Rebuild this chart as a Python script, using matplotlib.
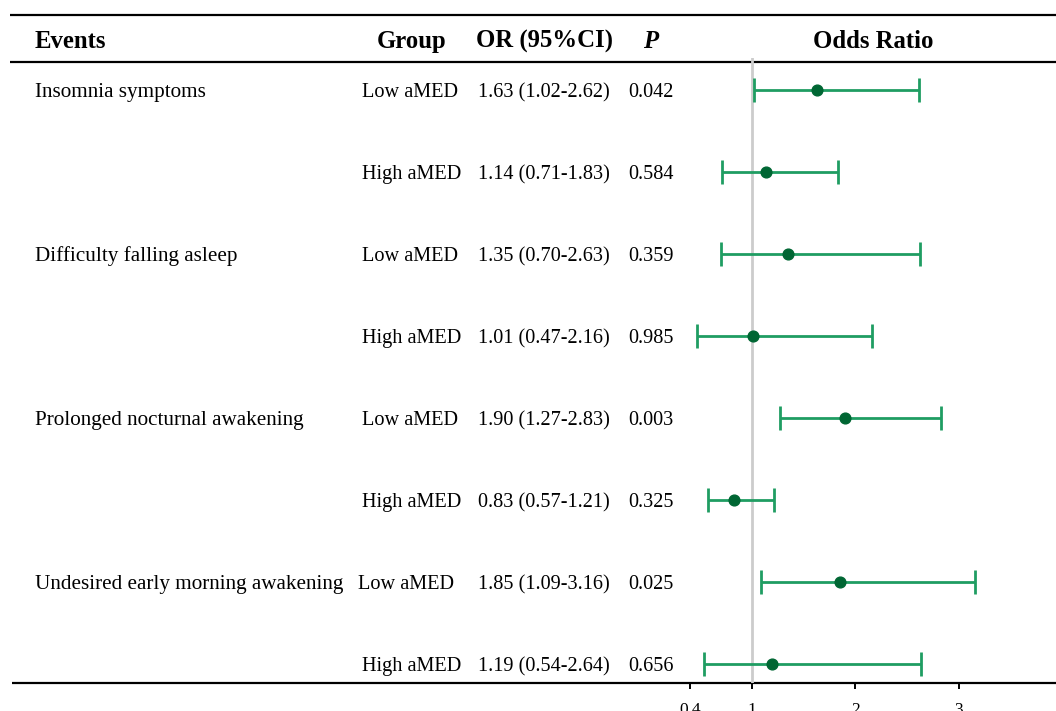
import matplotlib
matplotlib.use("Agg")
import matplotlib.pyplot as plt

plt.rcParams['font.family'] = ['Liberation Serif', 'DejaVu Serif']

events = ["Insomnia symptoms", "", "Difficulty falling asleep", "",
          "Prolonged nocturnal awakening", "", "Undesired early morning awakening", ""]
groups = ["Low aMED", "High aMED"] * 4
or_vals = [1.63, 1.14, 1.35, 1.01, 1.90, 0.83, 1.85, 1.19]
ci_low = [1.02, 0.71, 0.70, 0.47, 1.27, 0.57, 1.09, 0.54]
ci_high = [2.62, 1.83, 2.63, 2.16, 2.83, 1.21, 3.16, 2.64]
p_vals = ["0.042", "0.584", "0.359", "0.985", "0.003", "0.325", "0.025", "0.656"]
x_ticks = [0.4, 1, 2, 3, 4]
x_ticklabels = ["0.4", "1", "2", "3", "4"]

W, H = 1056, 711
fig = plt.figure(figsize=(W / 100, H / 100), dpi=100)

# table axes in pixel coordinates
tab = fig.add_axes([0, 0, 1, 1])
tab.set_xlim(0, W)
tab.set_ylim(H, 0)
tab.axis("off")

# horizontal rules
tab.plot([10, W], [15, 15], color="black", lw=1.6, solid_capstyle="butt")
tab.plot([10, W], [62, 62], color="black", lw=1.6, solid_capstyle="butt")
tab.plot([12, W], [683, 683], color="black", lw=1.6, solid_capstyle="butt")

hfs = 17.8
efs = 15.2
fs = 14.6
hb = 48  # header baseline
tab.text(35, hb, "Events", fontsize=hfs, fontweight="bold", ha="left", va="baseline")
tab.text(412, hb, "Group", fontsize=hfs, fontweight="bold", ha="center", va="baseline")
tab.text(545, hb, "OR (95%CI)", fontsize=hfs, fontweight="bold", ha="center", va="baseline")
tab.text(651, hb, "P", fontsize=hfs, fontweight="bold", fontstyle="italic", ha="center", va="baseline")
tab.text(873, hb, "Odds Ratio", fontsize=hfs, fontweight="bold", ha="center", va="baseline")

row0, rstep = 90, 82
boff = 7
for i in range(len(groups)):
    y = row0 + rstep * i + boff
    if events[i]:
        tab.text(35, y, events[i], fontsize=efs, ha="left", va="baseline")
    gx = 358 if (events[i] and len(events[i]) > 30) else 362
    tab.text(gx, y, groups[i], fontsize=fs, ha="left", va="baseline")
    tab.text(478, y, f"{or_vals[i]:.2f} ({ci_low[i]:.2f}-{ci_high[i]:.2f})",
             fontsize=fs, ha="left", va="baseline")
    tab.text(628, y, p_vals[i], fontsize=fs, ha="left", va="baseline")

# forest axes
x_left_px, px_per_unit = 690, 103.3
x_right_px = x_left_px + (4 - 0.4) * px_per_unit
top_px, bot_px = 58, 683
ax = fig.add_axes([x_left_px / W, 1 - bot_px / H,
                   (x_right_px - x_left_px) / W, (bot_px - top_px) / H])
ax.patch.set_alpha(0)
ax.set_xlim(0.4, 4)
ax.set_ylim((bot_px - row0) / rstep, (top_px - row0) / rstep)
for s in ax.spines.values():
    s.set_visible(False)
ax.set_yticks([])
ax.set_xticks(x_ticks)
ax.set_xticklabels(x_ticklabels, fontsize=12.5)
ax.tick_params(axis="x", direction="out", length=4, width=1.4, pad=10.0)
ax.axvline(1, color="#cccccc", lw=2, zorder=1)

ypos = list(range(len(or_vals)))
xerr = [[o - l for o, l in zip(or_vals, ci_low)], [h - o for o, h in zip(or_vals, ci_high)]]
ax.errorbar(or_vals, ypos, xerr=xerr, fmt="none", ecolor="#1f9d62", elinewidth=2,
            capsize=8.5, capthick=2, zorder=2)
ax.scatter(or_vals, ypos, s=60, color="#006633", zorder=3, clip_on=False)

fig.savefig("out.png", dpi=100)
